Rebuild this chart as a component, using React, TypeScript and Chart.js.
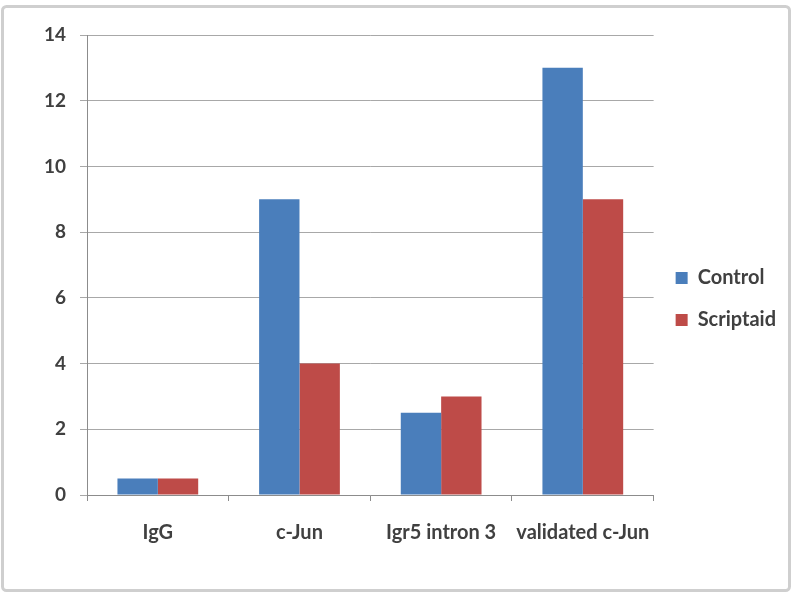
import React, { useEffect, useRef } from "react";
import { Chart, registerables } from "chart.js";

Chart.register(...registerables);

const categories = ["IgG", "c-Jun", "Igr5 intron 3", "validated c-Jun"];
const controlValues = [0.5, 9, 2.5, 13];
const scriptaidValues = [0.5, 4, 3, 9];
const seriesNames = ["Control", "Scriptaid"];

const FONT = "Lato, 'Open Sans', 'Liberation Sans', sans-serif";

const framePlugin = {
  id: "frame",
  beforeDraw(chart: any) {
    const ctx = chart.ctx;
    ctx.save();
    ctx.fillStyle = "#ffffff";
    ctx.fillRect(0, 0, chart.width, chart.height);
    ctx.strokeStyle = "#cfcfcf";
    ctx.lineWidth = 3;
    ctx.beginPath();
    ctx.roundRect(2.5, 6.5, 787, 584, 4);
    ctx.stroke();
    ctx.restore();
  },
};

export default function App() {
  const ref = useRef<HTMLCanvasElement | null>(null);
  useEffect(() => {
    document.body.style.margin = "0";
    const canvas = ref.current!;
    const chart = new Chart(canvas, {
      type: "bar",
      data: {
        labels: categories,
        datasets: [
          {
            label: seriesNames[0],
            data: controlValues,
            backgroundColor: "#4a7ebb",
            barPercentage: 1.0,
            categoryPercentage: 0.57,
          },
          {
            label: seriesNames[1],
            data: scriptaidValues,
            backgroundColor: "#be4b48",
            barPercentage: 1.0,
            categoryPercentage: 0.57,
          },
        ],
      },
      options: {
        responsive: false,
        animation: false,
        devicePixelRatio: 1,
        layout: { padding: { top: 35, left: 20, right: 14, bottom: 37 } },
        font: { family: FONT },
        plugins: {
          legend: {
            position: "right",
            align: "center",
            labels: {
              boxWidth: 12,
              boxHeight: 12,
              padding: 22,
              color: "#404040",
              font: { size: 20, family: FONT, weight: "bold" },
            },
          },
          tooltip: { enabled: false },
        },
        scales: {
          x: {
            afterFit(scale: any) {
              scale.height = 600 - 495 - 37;
            },
            grid: {
              display: true,
              offset: true,
              drawOnChartArea: false,
              tickLength: 6,
              color: "#8c8c8c",
            },
            border: { color: "#8c8c8c", width: 1 },
            ticks: {
              color: "#404040",
              padding: 20,
              font: { size: 20, family: FONT, weight: "bold" },
            },
          },
          y: {
            min: 0,
            max: 14,
            afterFit(scale: any) {
              scale.width = 87 - 20;
            },
            ticks: {
              stepSize: 2,
              color: "#404040",
              padding: 14,
              font: { size: 19, family: FONT, weight: "bold" },
            },
            grid: {
              color: "#a8a8a8",
              lineWidth: 1,
              tickLength: 7,
            },
            border: { color: "#8c8c8c", width: 1 },
          },
        },
      },
      plugins: [framePlugin],
    } as any);
    return () => chart.destroy();
  }, []);
  return (
    <div style={{ width: 800, height: 600 }}>
      <canvas ref={ref} width={800} height={600} style={{ width: 800, height: 600, display: "block" }} />
    </div>
  );
}
